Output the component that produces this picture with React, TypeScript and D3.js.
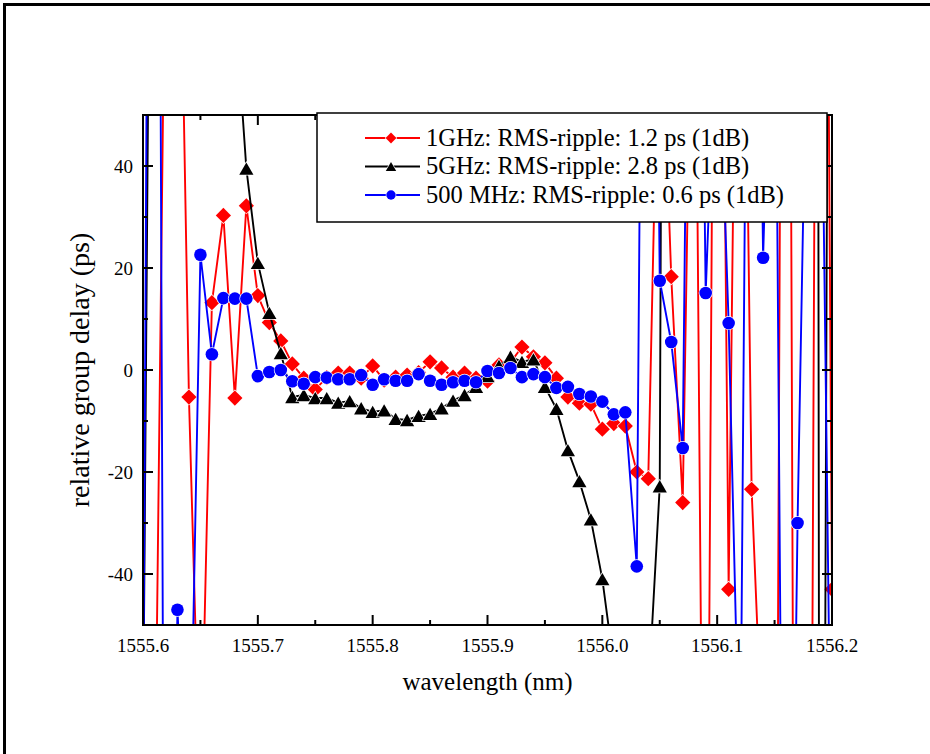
import React from 'react';
import * as d3 from 'd3';

const wavelength = [
  1555.60, 1555.61, 1555.62, 1555.63, 1555.64, 1555.65, 1555.66, 1555.67, 1555.68, 1555.69,
  1555.70, 1555.71, 1555.72, 1555.73, 1555.74, 1555.75, 1555.76, 1555.77, 1555.78, 1555.79,
  1555.80, 1555.81, 1555.82, 1555.83, 1555.84, 1555.85, 1555.86, 1555.87, 1555.88, 1555.89,
  1555.90, 1555.91, 1555.92, 1555.93, 1555.94, 1555.95, 1555.96, 1555.97, 1555.98, 1555.99,
  1556.00, 1556.01, 1556.02, 1556.03, 1556.04, 1556.05, 1556.06, 1556.07, 1556.08, 1556.09,
  1556.10, 1556.11, 1556.12, 1556.13, 1556.14, 1556.15, 1556.16, 1556.17, 1556.18, 1556.19,
  1556.20,
];

const delay1GHz = [
  -150, -92, 100, 120, -5.3, -85, 13.2, 30.3, -5.5, 32.2,
  14.6, 9.3, 5.7, 1.2, -1.6, -3.8, -1.5, -0.6, -0.6, -1.6,
  0.8, -2.0, -1.4, -1.0, -0.5, 1.6, 0.4, -1.4, -0.6, -1.6,
  -2.2, 1.0, 1.5, 4.5, 2.6, 1.4, -1.6, -5.3, -6.5, -6.7,
  -11.6, -10.5, -11.0, -20.0, -21.3, 82, 18.3, -26, 110, -166,
  200, -43, 151, -23.4, -78, -200, 300, -300, -200, 300,
  -43,
];

const delay5GHz = [
  -75, 215, 400, 350, 300, 250, 200, 150, 72, 39.5,
  21, 11.2, 3.3, -5.3, -4.9, -5.5, -5.5, -6.4, -6.1, -7.5,
  -8.2, -7.9, -9.6, -9.8, -9.0, -8.6, -7.5, -6.0, -4.9, -3.3,
  -1.2, 0.8, 2.6, 1.6, 2.1, -3.3, -7.6, -15.7, -21.8, -29.3,
  -41, -58, -80, -85, -64, -22.8, 540, 600, 500, 600,
  500, 600, 500, 600, 500, 600, 500, 700, 1500, -300,
  300,
];

const delay500MHz = [
  -80, 350, -203, -47, -95, 22.6, 3.1, 14.1, 14.0, 14.0,
  -1.2, -0.4, 0.0, -2.2, -2.7, -1.4, -1.5, -1.8, -1.8, -1.0,
  -2.9, -1.8, -2.1, -2.1, -0.8, -2.1, -2.9, -2.4, -2.1, -2.4,
  -0.2, -0.6, 0.4, -1.4, -0.8, -1.4, -3.5, -3.3, -4.7, -5.2,
  -6.2, -8.7, -8.3, -38.5, 250, 17.5, 5.5, -15.3, 200, 15.1,
  75, 9.2, -85, 200, 22, 100, -200, -30, 93, 80,
  -100,
];

const xTicks = [1555.6, 1555.7, 1555.8, 1555.9, 1556.0, 1556.1, 1556.2];
const xMinorTicks = [1555.65, 1555.75, 1555.85, 1555.95, 1556.05, 1556.15];
const yTicks = [-40, -20, 0, 20, 40];
const yMinorTicks = [-30, -10, 10, 30];

const seriesNames = [
  '1GHz: RMS-ripple: 1.2 ps (1dB)',
  '5GHz: RMS-ripple: 2.8 ps (1dB)',
  '500 MHz: RMS-ripple: 0.6 ps (1dB)',
];
const seriesColors = ['#ff0000', '#000000', '#0000ff'];
const seriesShapes = ['diamond', 'triangle', 'circle'];
const seriesValues = [delay1GHz, delay5GHz, delay500MHz];

const FONT = '"Liberation Serif", "Times New Roman", serif';

function markerPath(shape: string, s: number) {
  if (shape === 'diamond') {
    return `M0,${-s}L${s},0L0,${s}L${-s},0Z`;
  }
  if (shape === 'triangle') {
    const w = s * 0.9;
    const h = s * 0.78;
    return `M0,${-h}L${w},${h}L${-w},${h}Z`;
  }
  return `M${-s},0A${s},${s} 0 1,0 ${s},0A${s},${s} 0 1,0 ${-s},0Z`;
}

export default function App() {
  const W = 930;
  const H = 754;
  const L = 143, R = 832, T = 115, B = 625;
  const x = d3.scaleLinear().domain([1555.6, 1556.2]).range([L, R]);
  const y = d3.scaleLinear().domain([-50, 50]).range([B, T]);

  const line = d3
    .line<number>()
    .x((_, i) => x(wavelength[i]))
    .y((d) => y(d));

  const markerSize = [7.6, 7.9, 6.3];
  const legendMarker = [5.4, 5.8, 4.7];

  return (
    <svg
      width={W}
      height={H}
      style={{ position: 'absolute', left: 0, top: 0, background: '#fff' }}
      fontFamily={FONT}
    >
      <defs>
        <clipPath id="plotClip">
          <rect x={L} y={T} width={R - L} height={B - T} />
        </clipPath>
      </defs>
      <rect x={0} y={0} width={W} height={H} fill="#fff" />
      {/* outer frame */}
      <path d={`M4.5,${H}V4.5H${W}`} fill="none" stroke="#000" strokeWidth={3} />

      {/* data */}
      <g clipPath="url(#plotClip)">
        {seriesValues.map((vals, si) => (
          <g key={si}>
            <path d={line(vals) || ''} fill="none" stroke={seriesColors[si]} strokeWidth={1.9} strokeLinejoin="round" />
            {vals.map((v, i) => {
              const py = y(v);
              if (py < T - 20 || py > B + 20) return null;
              return (
                <path
                  key={i}
                  transform={`translate(${x(wavelength[i])},${py})`}
                  d={markerPath(seriesShapes[si], markerSize[si])}
                  fill={seriesColors[si]}
                  stroke="#fff"
                  strokeWidth={1.4}
                  paintOrder="stroke"
                />
              );
            })}
          </g>
        ))}
      </g>

      {/* axes frame */}
      <rect x={L} y={T} width={R - L} height={B - T} fill="none" stroke="#000" strokeWidth={2} />

      {/* x ticks */}
      {xTicks.map((t) => (
        <g key={'xt' + t}>
          <line x1={x(t)} x2={x(t)} y1={B} y2={B - 10} stroke="#000" strokeWidth={2} />
          <line x1={x(t)} x2={x(t)} y1={T} y2={T + 10} stroke="#000" strokeWidth={2} />
          <text x={x(t)} y={652} textAnchor="middle" fontSize={19}>
            {t.toFixed(1)}
          </text>
        </g>
      ))}
      {xMinorTicks.map((t) => (
        <g key={'xm' + t}>
          <line x1={x(t)} x2={x(t)} y1={B} y2={B - 5} stroke="#000" strokeWidth={2} />
          <line x1={x(t)} x2={x(t)} y1={T} y2={T + 5} stroke="#000" strokeWidth={2} />
        </g>
      ))}

      {/* y ticks */}
      {yTicks.map((t) => (
        <g key={'yt' + t}>
          <line x1={L} x2={L + 10} y1={y(t)} y2={y(t)} stroke="#000" strokeWidth={2} />
          <line x1={R} x2={R - 10} y1={y(t)} y2={y(t)} stroke="#000" strokeWidth={2} />
          <text x={133} y={y(t)} dy="0.35em" textAnchor="end" fontSize={19}>
            {String(t)}
          </text>
        </g>
      ))}
      {yMinorTicks.map((t) => (
        <g key={'ym' + t}>
          <line x1={L} x2={L + 5} y1={y(t)} y2={y(t)} stroke="#000" strokeWidth={2} />
          <line x1={R} x2={R - 5} y1={y(t)} y2={y(t)} stroke="#000" strokeWidth={2} />
        </g>
      ))}

      {/* axis titles */}
      <text x={(L + R) / 2} y={690} textAnchor="middle" fontSize={25}>
        wavelength (nm)
      </text>
      <text
        transform={`translate(89,${(T + B) / 2}) rotate(-90)`}
        textAnchor="middle"
        fontSize={28}
      >
        relative group delay (ps)
      </text>

      {/* legend */}
      <rect x={317} y={113} width={510} height={109} fill="#fff" stroke="#000" strokeWidth={1.5} />
      {seriesNames.map((name, i) => {
        const cy = 138 + i * 28.5;
        return (
          <g key={name}>
            <line x1={365} x2={420} y1={cy} y2={cy} stroke={seriesColors[i]} strokeWidth={1.9} />
            <path
              transform={`translate(391,${cy})`}
              d={markerPath(seriesShapes[i], legendMarker[i])}
              fill={seriesColors[i]}
              stroke="#fff"
              strokeWidth={1.2}
              paintOrder="stroke"
            />
            <text x={426} y={cy + 7.5} fontSize={24.5}>
              {name}
            </text>
          </g>
        );
      })}
    </svg>
  );
}
